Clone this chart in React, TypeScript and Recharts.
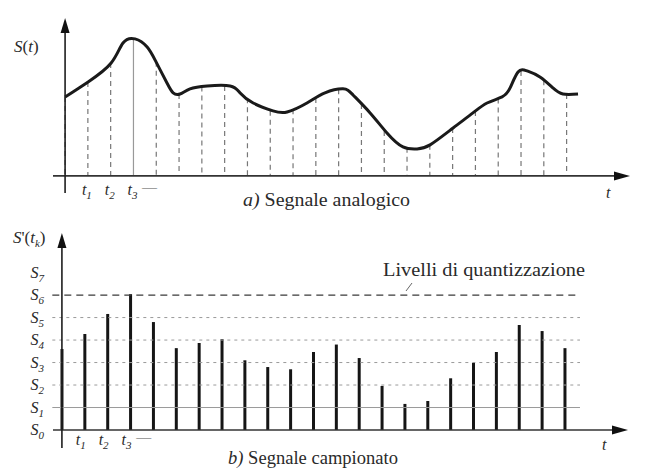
import React from 'react';
import { ComposedChart, Line, Bar, XAxis, YAxis, ReferenceLine } from 'recharts';

// ---- data ----
// analog curve S(t): time (in sampling periods) and value (in quantization steps)
const curveT = [0, 1.01, 2.02, 2.54, 3.07, 3.6, 3.99, 4.47, 4.74, 5.04, 5.48, 6.23, 7.24, 7.68, 8.25, 9.12, 9.74, 10.61, 11.4, 12.19, 12.63, 13.38, 14.12, 14.82, 15.44, 16.01, 17.02, 17.89, 18.51, 19.17, 19.52, 19.87, 20.26, 20.83, 21.4, 21.84, 22.5];
const curveS = [3.51, 4.18, 5.02, 5.91, 6.09, 5.73, 5.07, 4.13, 3.69, 3.64, 3.87, 4.0, 4.0, 3.69, 3.24, 2.89, 2.84, 3.24, 3.69, 3.87, 3.6, 2.8, 1.91, 1.29, 1.2, 1.38, 2.13, 2.8, 3.24, 3.51, 3.91, 4.62, 4.67, 4.4, 3.91, 3.64, 3.64];

// sampling instants
const sampleT = [0, 1, 2, 3, 4, 5, 6, 7, 8, 9, 10, 11, 12, 13, 14, 15, 16, 17, 18, 19, 20, 21, 22];
// analog value at each sampling instant (top dashed lines)
const analogAtSample = [3.51, 4.18, 5.02, 6.06, 5.07, 3.64, 3.97, 4.0, 3.45, 2.9, 2.96, 3.46, 3.85, 3.2, 2.0, 1.25, 1.38, 2.13, 2.88, 3.44, 4.66, 4.25, 3.64];
// sampled signal S'(tk) (bottom stems)
const sampledValues = [3.6, 4.27, 5.16, 6.04, 4.8, 3.64, 3.87, 4.04, 3.1, 2.8, 2.7, 3.47, 3.8, 3.2, 1.96, 1.16, 1.29, 2.3, 2.98, 3.47, 4.67, 4.4, 3.64];

// quantization levels
const levelValues = [0, 1, 2, 3, 4, 5, 6, 7];
const levelLabels = ['0', '1', '2', '3', '4', '5', '6', '7'];
const levelLinesDrawn = [1, 2, 3, 4, 5, 6];

// time tick labels
const timeTickPos = [1, 2, 3, 3.75];
const timeTickLabels = ['1', '2', '3', '—'];

// ---- derived tables ----
const curveData = curveT.map((t, i) => ({ t, s: curveS[i] }));
const topData = sampleT.map((t, i) => ({ t, v: analogAtSample[i] }));
const bottomData = sampleT.map((t, i) => ({ t, v: sampledValues[i] }));
const peakValue = Math.max(...analogAtSample);

const FONT = "'Liberation Serif', 'Times New Roman', Times, serif";
const INK = '#2a2a2a';

const topX: [number, number] = [-0.53, 24.78];
const topY: [number, number] = [-0.76, 7.02];
const botX: [number, number] = [-0.39, 24.76];
const botY: [number, number] = [-0.8, 8.76];

const ArrowUp = (p: any) => {
  const { x1, y1, x2, y2 } = p;
  return (
    <g>
      <line x1={x1} y1={y1} x2={x2} y2={y2 + 8} stroke="#1e1e1e" strokeWidth={1.6} />
      <polygon points={`${x2},${y2} ${x2 - 4.5},${y2 + 15} ${x2 + 4.5},${y2 + 15}`} fill="#111" />
    </g>
  );
};

const ArrowRight = (p: any) => {
  const { x1, y1, x2, y2 } = p;
  return (
    <g>
      <line x1={x1} y1={y1} x2={x2 - 8} y2={y2} stroke="#333" strokeWidth={1.6} />
      <polygon points={`${x2},${y2} ${x2 - 16},${y2 - 4.5} ${x2 - 16},${y2 + 4.5}`} fill="#111" />
    </g>
  );
};

const DashedSample = (p: any) => {
  const cx = p.x + p.width / 2;
  const solid = p.payload && p.payload.v === peakValue;
  return (
    <line
      x1={cx}
      x2={cx}
      y1={p.y}
      y2={p.y + p.height}
      stroke={solid ? '#999' : '#777'}
      strokeWidth={1.2}
      strokeDasharray={solid ? undefined : '5 4'}
    />
  );
};

const makeTimeTick = (off: number, dx: number) => (p: any) => {
  const idx = timeTickPos.indexOf(p.payload.value);
  const lab = timeTickLabels[idx];
  if (lab === undefined) return null;
  if (lab === '—') {
    return (
      <text x={p.x + dx} y={p.y + off - 3} textAnchor="middle" fontFamily={FONT} fontSize={15} fill="#555">
        —
      </text>
    );
  }
  return (
    <text x={p.x + dx} y={p.y + off} textAnchor="middle" fontFamily={FONT} fontStyle="italic" fontSize={16} fill={INK}>
      <tspan>t</tspan>
      <tspan dy={4} fontSize={11}>{lab}</tspan>
    </text>
  );
};

const LevelTick = (p: any) => {
  const idx = levelValues.indexOf(p.payload.value);
  if (idx < 0) return null;
  return (
    <text x={p.x - 1} y={p.y + 5} textAnchor="end" fontFamily={FONT} fontStyle="italic" fontSize={16} fill={INK}>
      <tspan>S</tspan>
      <tspan dy={4} fontSize={11}>{levelLabels[idx]}</tspan>
    </text>
  );
};

export default function App() {
  return (
    <div style={{ position: 'absolute', left: 0, top: 0, width: 651, height: 468, background: '#fff' }}>
      <div style={{ position: 'absolute', left: 0, top: 0 }}>
        <ComposedChart width={651} height={220} data={topData} margin={{ top: 18, right: 21, bottom: 0, left: 0 }}>
          <XAxis
            dataKey="t"
            type="number"
            domain={topX}
            allowDataOverflow
            ticks={timeTickPos}
            height={27}
            axisLine={false}
            tickLine={false}
            interval={0}
            tick={makeTimeTick(-6, -1)}
          />
          <YAxis type="number" domain={topY} allowDataOverflow width={53} tick={false} axisLine={false} tickLine={false} />
          <Bar dataKey="v" barSize={2} isAnimationActive={false} shape={DashedSample} />
          <Line
            data={curveData}
            dataKey="s"
            type="natural"
            stroke="#1a1a1a"
            strokeWidth={3}
            dot={false}
            activeDot={false}
            isAnimationActive={false}
          />
          <ReferenceLine
            segment={[{ x: topX[0], y: 0 }, { x: topX[1], y: 0 }]}
            ifOverflow="visible"
            shape={ArrowRight}
          />
          <ReferenceLine
            segment={[{ x: 0, y: topY[0] }, { x: 0, y: topY[1] }]}
            ifOverflow="visible"
            shape={ArrowUp}
          />
        </ComposedChart>
      </div>
      <div style={{ position: 'absolute', left: 0, top: 220 }}>
        <ComposedChart width={651} height={248} data={bottomData} margin={{ top: 13, right: 23, bottom: 0, left: 0 }}>
          <XAxis
            dataKey="t"
            type="number"
            domain={botX}
            allowDataOverflow
            ticks={timeTickPos}
            height={20}
            axisLine={false}
            tickLine={false}
            interval={0}
            tick={makeTimeTick(-11, -4)}
          />
          <YAxis
            type="number"
            domain={botY}
            allowDataOverflow
            width={53}
            ticks={levelValues}
            interval={0}
            axisLine={false}
            tickLine={false}
            tick={LevelTick}
          />
          {levelLinesDrawn.map((lv) => (
            <ReferenceLine
              key={lv}
              segment={[{ x: -0.42, y: lv }, { x: 22.66, y: lv }]}
              ifOverflow="visible"
              stroke={lv === 6 ? '#3a3a3a' : '#9a9a9a'}
              strokeWidth={lv === 6 ? 1.3 : 1}
              strokeDasharray={lv === 6 ? '7 5' : lv === 1 ? undefined : '3 4'}
            />
          ))}
          <Bar dataKey="v" barSize={3} fill="#151515" isAnimationActive={false} />
          <ReferenceLine
            segment={[{ x: botX[0], y: 0 }, { x: botX[1], y: 0 }]}
            ifOverflow="visible"
            shape={ArrowRight}
          />
          <ReferenceLine
            segment={[{ x: 0, y: botY[0] }, { x: 0, y: botY[1] }]}
            ifOverflow="visible"
            shape={ArrowUp}
          />
        </ComposedChart>
      </div>
      <svg width={651} height={468} style={{ position: 'absolute', left: 0, top: 0, pointerEvents: 'none' }}>
        <g fontFamily={FONT} fill={INK}>
          <text x={14} y={52} fontSize={17}>
            <tspan fontStyle="italic">S</tspan>(<tspan fontStyle="italic">t</tspan>)
          </text>
          <text x={13} y={243} fontSize={17}>
            <tspan fontStyle="italic">S</tspan>'(<tspan fontStyle="italic">t</tspan>
            <tspan dy={4} fontSize={11} fontStyle="italic">k</tspan>
            <tspan dy={-4}>)</tspan>
          </text>
          <text x={606} y={198} fontSize={16} fontStyle="italic">t</text>
          <text x={602} y={450} fontSize={16} fontStyle="italic">t</text>
          <text x={243} y={206} fontSize={18} textLength={167} lengthAdjust="spacingAndGlyphs">
            <tspan fontStyle="italic">a)</tspan> Segnale analogico
          </text>
          <text x={228} y={464} fontSize={18} textLength={170} lengthAdjust="spacingAndGlyphs">
            <tspan fontStyle="italic">b)</tspan> Segnale campionato
          </text>
          <text x={383} y={276} fontSize={18} textLength={202} lengthAdjust="spacingAndGlyphs">
            Livelli di quantizzazione
          </text>
          <line x1={412} y1={283} x2={406} y2={291} stroke="#666" strokeWidth={1} />
        </g>
      </svg>
    </div>
  );
}
